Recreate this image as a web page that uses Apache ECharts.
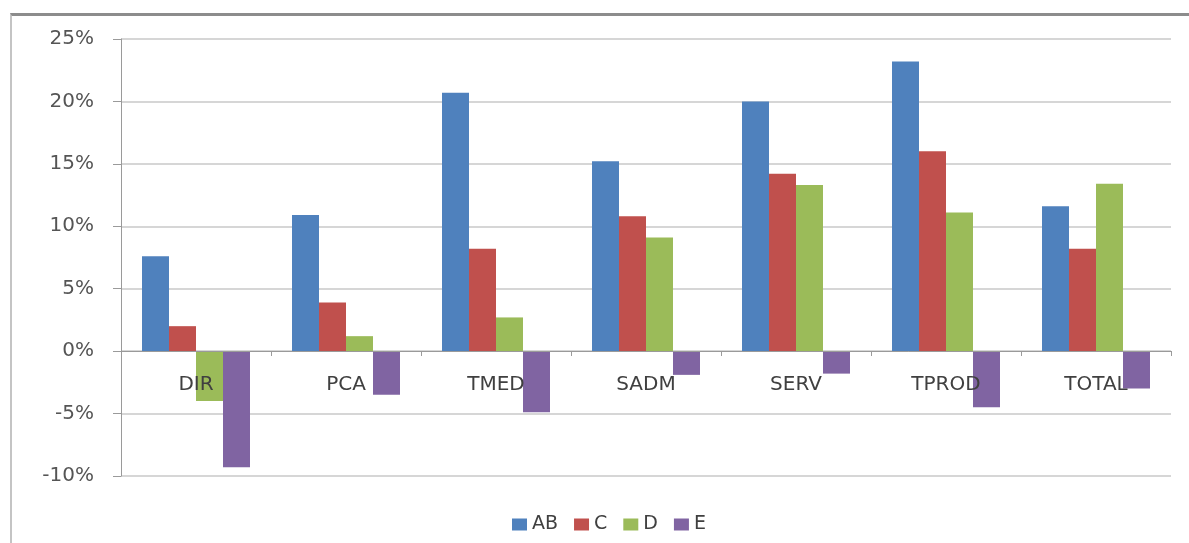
<!DOCTYPE html>
<html>
<head>
<meta charset="utf-8">
<title>Chart</title>
<script src="https://cdn.jsdelivr.net/npm/echarts@6/dist/echarts.min.js"></script>
<style>
  html, body { margin: 0; padding: 0; background: #fff; }
  #frame {
    position: absolute; left: 10px; top: 13px; width: 1300px; height: 700px;
    border-top: 3px solid #8c8c8c; border-left: 2px solid #c4c4c4;
  }
  #chart { position: absolute; left: 0; top: 0; width: 1189px; height: 543px; }
</style>
</head>
<body>
<div id="frame"></div>
<div id="chart"></div>
<script>
// categories and series values (percent)
var categories = ['DIR', 'PCA', 'TMED', 'SADM', 'SERV', 'TPROD', 'TOTAL'];
var seriesNames = ['AB', 'C', 'D', 'E'];
var valuesAB = [7.6, 10.9, 20.7, 15.2, 20.0, 23.2, 11.6];
var valuesC = [2.0, 3.9, 8.2, 10.8, 14.2, 16.0, 8.2];
var valuesD = [-4.0, 1.2, 2.7, 9.1, 13.3, 11.1, 13.4];
var valuesE = [-9.3, -3.5, -4.9, -1.9, -1.8, -4.5, -3.0];
var colors = ['#4F81BD', '#C0504D', '#9BBB59', '#8064A2'];

var fontFamily = '"DejaVu Sans", "Open Sans", sans-serif';

var chart = echarts.init(document.getElementById('chart'));

function makeSeries(name, data, color) {
  return {
    name: name,
    type: 'bar',
    data: data,
    barGap: '0%',
    barCategoryGap: '28%',
    itemStyle: { color: color },
    emphasis: { disabled: true }
  };
}

var option = {
  animation: false,
  textStyle: { fontFamily: fontFamily },
  grid: {
    left: 121,
    right: 18,
    top: 39,
    bottom: 67
  },
  legend: {
    left: 507,
    top: 510,
    itemWidth: 15,
    itemHeight: 12,
    itemGap: 16,
    icon: 'rect',
    textStyle: { fontSize: 19, color: '#404040', fontFamily: fontFamily },
    data: seriesNames
  },
  xAxis: {
    type: 'category',
    data: categories,
    // category axis drawn along the 0% line, labels just below it
    offset: -125,
    axisLine: { onZero: false, lineStyle: { color: '#9a9a9a', width: 1 } },
    axisTick: { show: true, length: 5, lineStyle: { color: '#9a9a9a' } },
    axisLabel: { fontSize: 20, color: '#404040', margin: 24 },
    z: 10
  },
  yAxis: {
    type: 'value',
    min: -10,
    max: 25,
    interval: 5,
    axisLine: { show: true, lineStyle: { color: '#9a9a9a', width: 1 } },
    axisTick: { show: true, length: 8, lineStyle: { color: '#9a9a9a' } },
    axisLabel: { formatter: '{value}%', fontSize: 20, color: '#555555', margin: 27 },
    splitLine: { lineStyle: { color: '#c8c8c8', width: 1.5 } }
  },
  series: [
    makeSeries(seriesNames[0], valuesAB, colors[0]),
    makeSeries(seriesNames[1], valuesC, colors[1]),
    makeSeries(seriesNames[2], valuesD, colors[2]),
    makeSeries(seriesNames[3], valuesE, colors[3])
  ]
};

chart.setOption(option);
</script>
</body>
</html>
